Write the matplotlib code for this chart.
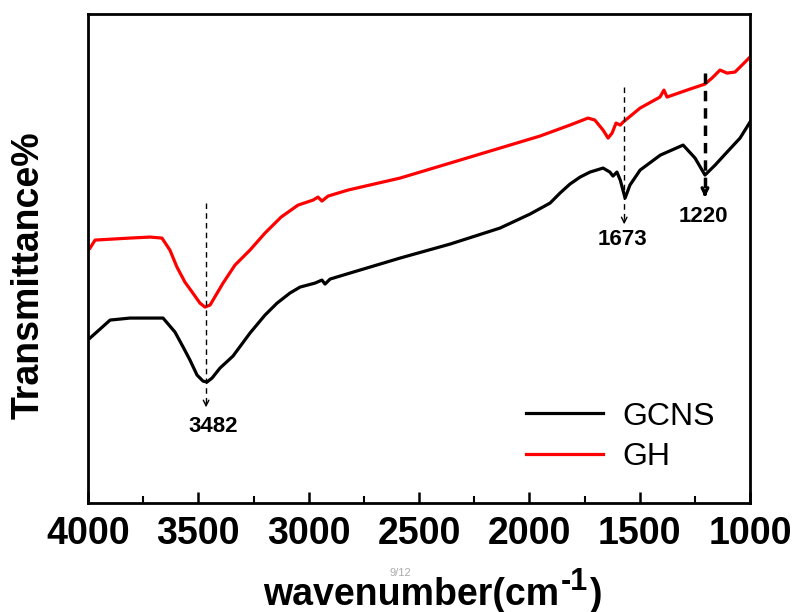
import numpy as np
import matplotlib
matplotlib.use("Agg")
import matplotlib.pyplot as plt
from matplotlib.ticker import MultipleLocator

plt.rcParams['font.family'] = ['Liberation Sans', 'DejaVu Sans']

# GCNS spectrum (arbitrary transmittance units)
gcns_wn = [3991, 3900, 3810, 3719, 3660, 3606, 3569, 3538, 3506, 3479, 3461, 3438,
           3402, 3343, 3266, 3198, 3143, 3085, 3039, 2971, 2940, 2926, 2903, 2813,
           2586, 2359, 2133, 1997, 1906, 1861, 1816, 1770, 1725, 1666, 1635, 1621,
           1603, 1588, 1566, 1544, 1498, 1406, 1303, 1249, 1204, 1158, 1104, 1045, 1000]
gcns_t = [165, 183, 185, 185, 185, 171, 156, 143, 128, 122, 121, 125,
          135, 147, 170, 188, 200, 210, 216, 220, 223, 219, 224, 230,
          245, 259, 275, 289, 300, 310, 319, 326, 331, 335, 331, 327,
          331, 323, 305, 318, 333, 348, 358, 345, 328, 338, 351, 365, 381]

# GH spectrum
gh_wn = [3991, 3968, 3810, 3719, 3665, 3629, 3597, 3561, 3525, 3493, 3470, 3447,
         3388, 3334, 3266, 3198, 3125, 3048, 2980, 2958, 2940, 2912, 2822, 2586,
         2359, 2133, 1952, 1816, 1734, 1703, 1666, 1643, 1625, 1607, 1588, 1575,
         1498, 1408, 1390, 1376, 1272, 1204, 1172, 1136, 1104, 1068, 1036, 1000]
gh_t = [255, 263, 265, 266, 265, 253, 236, 221, 210, 200, 196, 198,
        220, 238, 253, 270, 286, 298, 303, 306, 302, 307, 313, 325,
        340, 355, 367, 378, 385, 383, 373, 365, 370, 380, 378, 381,
        395, 406, 413, 406, 414, 419, 425, 433, 430, 431, 438, 446]

# marked peaks: label, guide line x, line top / arrow tip, label position
peak_labels = ['3482', '1673', '1220']
peak_x = [3465, 1570, 1204]
peak_top = [300, 416, 430]
peak_bottom = [93, 276, 303]
peak_text_x = [3434, 1580, 1213]
peak_text_y = [77, 264, 287]
peak_lw = [1.0, 1.0, 2.5]

fig = plt.figure(figsize=(7.96, 6.12), dpi=100)
ax = fig.add_axes([0.1106, 0.178, 0.8316, 0.799])

ax.plot(gcns_wn, gcns_t, color='black', lw=2.3, label='GCNS')
ax.plot(gh_wn, gh_t, color='red', lw=2.3, label='GH')

for lab, x, top, bot, tx, ty, lw in zip(peak_labels, peak_x, peak_top, peak_bottom,
                                         peak_text_x, peak_text_y, peak_lw):
    ax.plot([x, x], [top, bot + 6], color='black', lw=lw,
            ls=(0, (4, 3)) if lw < 2 else (0, (3, 2)))
    ax.annotate('', xy=(x, bot), xytext=(x, bot + 10),
                arrowprops=dict(arrowstyle='->', color='black', lw=lw, mutation_scale=10))
    ax.text(tx, ty, lab, ha='center', va='center', fontsize=16, fontweight='bold')

ax.set_xlim(4000, 1000)
ax.set_ylim(0, 489)
ax.xaxis.set_major_locator(MultipleLocator(500))
ax.xaxis.set_minor_locator(MultipleLocator(250))
ax.tick_params(axis='x', which='major', direction='in', length=8, width=1.8,
               labelsize=27, pad=9, top=False)
ax.tick_params(axis='x', which='minor', direction='in', length=5, width=1.5, top=False)
for lbl in ax.get_xticklabels():
    lbl.set_fontweight('bold')
ax.set_yticks([])
for s in ax.spines.values():
    s.set_linewidth(2.0)

# x label built from pieces so the superscript can be large
t1 = fig.text(263 / 796, 1 - 605 / 612, 'wavenumber(cm', fontsize=27,
              fontweight='bold', ha='left', va='baseline')
t2 = ax.annotate('-1', xy=(1, 1), xycoords=t1, xytext=(1, 7), textcoords='offset points',
                 fontsize=22, fontweight='bold', ha='left', va='top')
ax.annotate(')', xy=(1, 0), xycoords=(t2, t1), xytext=(1, 0), textcoords='offset points',
            fontsize=27, fontweight='bold', ha='left', va='bottom')

fig.text(29 / 796, 1 - 275 / 612, 'Transmittance%', fontsize=27, fontweight='bold',
         rotation=90, ha='center', va='center')

ax.legend(loc='lower right', bbox_to_anchor=(0.99, 0.005), frameon=False, fontsize=23,
          handlelength=2.4, labelspacing=0.32, handletextpad=0.6)

fig.text(400 / 796, 1 - 573 / 612, '9/12', color='#aaaaaa', fontsize=8, ha='center', va='center')

fig.savefig('out.png', dpi=100)
